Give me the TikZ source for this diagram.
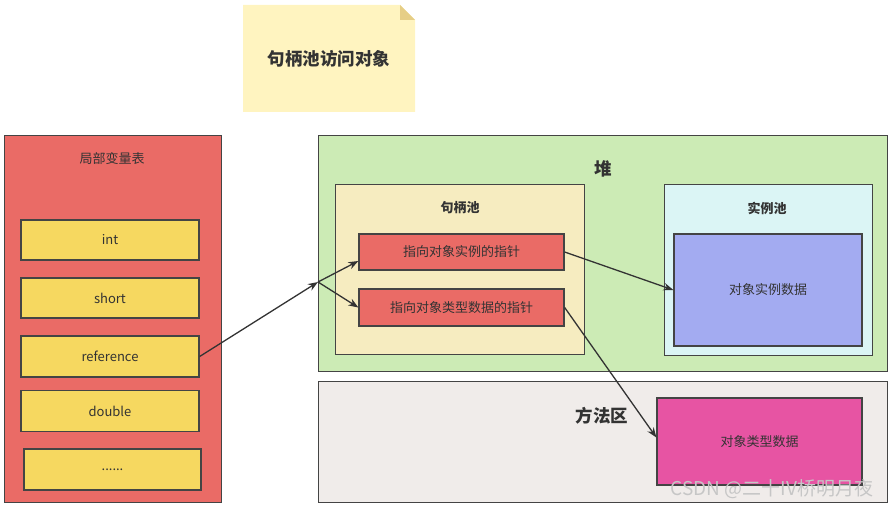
\documentclass[tikz,border=0pt]{standalone}
\usepackage{fontspec}
\setmainfont{Noto Sans CJK SC}
\usetikzlibrary{arrows.meta,calc}
\definecolor{redbox}{HTML}{EA6B66}
\definecolor{yelbox}{HTML}{F6D860}
\definecolor{notefill}{HTML}{FFF4C0}
\definecolor{notefold}{HTML}{E6CE86}
\definecolor{heapfill}{HTML}{CCEBB5}
\definecolor{handlefill}{HTML}{F6ECC0}
\definecolor{instfill}{HTML}{DBF5F5}
\definecolor{purplefill}{HTML}{A3ABF1}
\definecolor{methodfill}{HTML}{F0ECEA}
\definecolor{magfill}{HTML}{E754A3}
\definecolor{edge}{HTML}{444444}
\definecolor{txt}{HTML}{333333}
\tikzset{
  box/.style={draw=edge, line width=1.3pt, inner sep=0pt, anchor=north west, text=txt},
  lbl/.style={text=txt, inner sep=0pt, font=\fontsize{13}{15}\selectfont},
  blbl/.style={text=txt, inner sep=0pt, font=\bfseries\fontsize{13}{15}\selectfont},
  big/.style={text=txt, inner sep=0pt, font=\bfseries\fontsize{17.5}{20}\selectfont},
  conn/.style={draw=txt, line width=1.3pt, -{Stealth[length=10pt,width=7.5pt]}},
}
\begin{document}
\begin{tikzpicture}[x=1pt,y=-1pt]
\useasboundingbox (0,0) rectangle (894,508);
% note
\fill[notefill] (243,5) -- (400,5) -- (415,20) -- (415,112) -- (243,112) -- cycle;
\fill[notefold] (400,5) -- (415,20) -- (400,20) -- cycle;
\node[big] (title) at (329,59) {句柄池访问对象};
% local variable table
\node[box, fill=redbox, minimum width=217pt, minimum height=367pt] (lvt) at (4,135) {};
\node[lbl] (lvtt) at (112,159) {局部变量表};
\node[box, fill=yelbox, minimum width=178pt, minimum height=40pt, anchor=center] (int) at (110,240) {\fontsize{13}{15}\selectfont int};
\node[box, fill=yelbox, minimum width=178pt, minimum height=40pt, anchor=center] (short) at (110,298) {\fontsize{13}{15}\selectfont short};
\node[box, fill=yelbox, minimum width=178pt, minimum height=41pt, anchor=center] (ref) at (110,356.5) {\fontsize{13}{15}\selectfont reference};
\node[box, fill=yelbox, minimum width=178pt, minimum height=41pt, anchor=center] (dbl) at (110,411) {\fontsize{13}{15}\selectfont double};
\node[box, fill=yelbox, minimum width=177pt, minimum height=41pt, anchor=center] (dots) at (112.5,469.5) {\fontsize{13}{15}\selectfont ......};
% heap
\node[box, fill=heapfill, minimum width=569pt, minimum height=236pt] (heap) at (318,135) {};
\node[big] (heapt) at (603,169) {堆};
\node[box, fill=handlefill, minimum width=249pt, minimum height=170pt] (hpool) at (335,184) {};
\node[blbl] (hpoolt) at (460,208) {句柄池};
\node[box, fill=redbox, minimum width=205pt, minimum height=36pt, anchor=center] (ptr1) at (461.5,252) {\fontsize{13}{15}\selectfont 指向对象实例的指针};
\node[box, fill=redbox, minimum width=205pt, minimum height=37pt, anchor=center] (ptr2) at (461.5,307.5) {\fontsize{13}{15}\selectfont 指向对象类型数据的指针};
\node[box, fill=instfill, minimum width=208pt, minimum height=171pt] (ipool) at (664,184) {};
\node[blbl] (ipoolt) at (767,208) {实例池};
\node[box, fill=purplefill, minimum width=188pt, minimum height=112pt, anchor=center] (idata) at (768,290) {\fontsize{13}{15}\selectfont 对象实例数据};
% method area
\node[box, fill=methodfill, minimum width=569pt, minimum height=121pt] (method) at (318,381) {};
\node[big] (methodt) at (602,416) {方法区};
\node[box, fill=magfill, minimum width=205pt, minimum height=87pt, anchor=center] (tdata) at (759.5,441.5) {\fontsize{13}{15}\selectfont 对象类型数据};
% watermark
\node[inner sep=0pt, text=gray!45, font=\fontsize{19}{22}\selectfont] (wm) at (772,489) {CSDN @二十IV桥明月夜};
% connectors
\coordinate (j) at (318,282);
\draw[conn] (ref.east) -- (j);
\draw[conn] (j) -- ([yshift=-9pt]ptr1.west);
\draw[conn] (j) -- (ptr2.west);
\draw[conn] (ptr1.east) -- (idata.west);
\draw[conn] (ptr2.east) -- ([yshift=4pt]tdata.west);
\end{tikzpicture}
\end{document}
